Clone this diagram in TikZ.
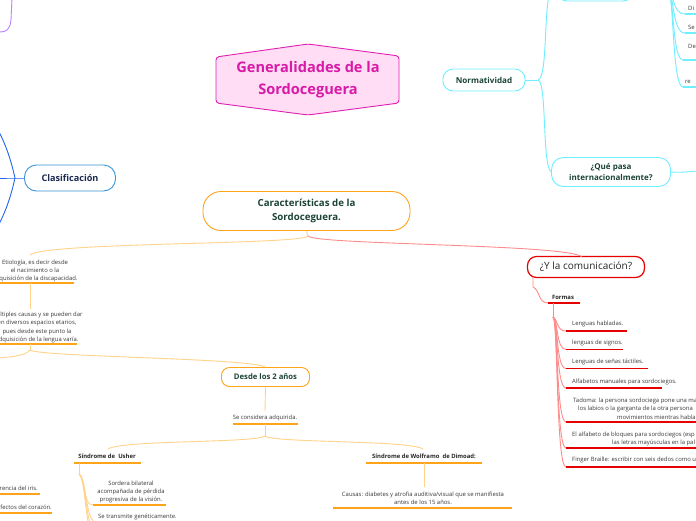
\documentclass[tikz,border=0pt]{standalone}
\usepackage{fontspec}
\setmainfont{Open Sans}
\usetikzlibrary{arrows.meta,backgrounds}
\definecolor{mag}{HTML}{E020B0}
\definecolor{magfill}{HTML}{FFDDF5}
\definecolor{magtext}{HTML}{D81AA8}
\definecolor{purp}{HTML}{A650FF}
\definecolor{purpl}{HTML}{BB80FF}
\definecolor{grn}{HTML}{50E050}
\definecolor{blu}{HTML}{2266EE}
\definecolor{clasb}{HTML}{3A96D8}
\definecolor{cyn}{HTML}{6EEFFF}
\definecolor{org}{HTML}{FFA31A}
\definecolor{orgl}{HTML}{FFD38A}
\definecolor{redd}{HTML}{E60000}
\definecolor{redl}{HTML}{FF8C8C}
\definecolor{dgreen}{HTML}{1B4434}
\definecolor{navy}{HTML}{1B2A4E}
\definecolor{txt}{HTML}{3A3A3A}
\tikzset{
  smalltxt/.style={font=\fontsize{5.9}{8.2}\selectfont, text=txt, align=center, inner sep=0pt},
  boldsmall/.style={font=\bfseries\fontsize{5.9}{8}\selectfont, text=black!85, align=center, inner sep=0pt},
  ulo/.style={line width=1.3pt, org},
  ulr/.style={line width=1.3pt, redd},
  ulc/.style={line width=1.3pt, cyn},
  conno/.style={line width=0.9pt, orgl},
  connr/.style={line width=0.9pt, redl},
  connc/.style={line width=0.9pt, cyn},
  boxnode/.style={rounded corners=10pt, draw, fill=white, line width=0.9pt, align=center, inner sep=0pt},
  arr/.style={-{Stealth[length=5pt,width=4pt]}}
}
\begin{document}
\begin{tikzpicture}[x=1pt,y=-1pt]
\useasboundingbox (0,0) rectangle (696,520);
\clip (0,0) rectangle (696,520);
\fill[white] (0,0) rectangle (696,520);

% ---------- nodes ----------
\node[inner sep=0pt, minimum width=183pt, minimum height=58pt] (gen) at (308,80) {};
\node[boxnode, draw=clasb, minimum width=91pt, minimum height=26pt, rounded corners=12pt,
      font=\bfseries\fontsize{9.1}{10}\selectfont, text=navy] (clas) at (70,178) {Clasificación};
\node[boxnode, draw=cyn, minimum width=82pt, minimum height=22pt,
      font=\bfseries\fontsize{8.1}{10}\selectfont, text=dgreen] (norm) at (484,80) {Normatividad};
\node[boxnode, draw=cyn, minimum width=119pt, minimum height=29pt, rounded corners=12pt,
      font=\bfseries\fontsize{8}{11}\selectfont, text=dgreen] (qpasa) at (611,172) {¿Qué pasa\\internacionalmente?};
\node[boxnode, draw=cyn, minimum width=76pt, minimum height=22pt] (topn) at (595,-10) {};
\node[boxnode, draw=org, minimum width=207pt, minimum height=39pt, rounded corners=18pt,
      font=\bfseries\fontsize{9.7}{14}\selectfont, text=dgreen] (carac) at (306.5,211) {Características de la\\Sordoceguera.};
\node[boxnode, draw=org, minimum width=88pt, minimum height=19pt, rounded corners=8pt,
      font=\bfseries\fontsize{7.7}{9}\selectfont, text=dgreen] (desde) at (265.5,377) {Desde los 2 años};
\node[boxnode, draw=redd, line width=1.2pt, minimum width=117pt, minimum height=21pt, rounded corners=9pt,
      font=\fontsize{10}{12}\selectfont, text=black!85] (ycom) at (586,267) {¿Y la comunicación?};

% small text nodes
\node[smalltxt] (etio) at (35,271) {Etiología, es decir desde\\el nacimiento o la\\adquisición de la discapacidad.};
\node[smalltxt] (mult) at (37,327.5) {Múltiples causas y se pueden dar\\en diversos espacios etarios,\\pues desde este punto la\\adquisición de la lengua varía.};
\node[smalltxt] (secon) at (265,418) {Se considera adquirida.};
\node[boldsmall] (usher) at (107,456) {Síndrome de\ \ Usher};
\node[boldsmall] (wolf) at (424,456) {Síndrome de Wolframo\ \ de Dimoad:};
\node[smalltxt] (causas) at (423,498) {Causas: diabetes y atrofia auditiva/visual que se manifiesta\\antes de los 15 años.};
\node[smalltxt] (sord) at (131,492) {Sordera bilateral\\acompañada de pérdida\\progresiva de la visión.};
\node[smalltxt, anchor=west] (trans) at (98,517) {Se transmite genéticamente.};
\node[smalltxt, anchor=east] (iris) at (38,488) {rencia del iris.};
\node[smalltxt, anchor=east] (coraz) at (52,507) {fectos del corazón.};
\node[boldsmall] (formas) at (563,297) {Formas};
\node[smalltxt, anchor=west] (c1) at (572,324) {Lenguas habladas.};
\node[smalltxt, anchor=west] (c2) at (572,343) {lenguas de signos.};
\node[smalltxt, anchor=west] (c3) at (572,362) {Lenguas de señas táctiles.};
\node[smalltxt, anchor=west] (c4) at (572,381.5) {Alfabetos manuales para sordociegos.};
\node[smalltxt, anchor=west] (c5a) at (573,401) {Tadoma: la persona sordociega pone una ma};
\node[smalltxt, anchor=west] (c5b) at (578,409) {los labios o la garganta de la otra persona};
\node[smalltxt, anchor=west] (c5c) at (617,417.5) {movimientos mientras habla};
\node[smalltxt, anchor=west] (c6a) at (572,435) {El alfabeto de bloques para sordociegos (esp};
\node[smalltxt, anchor=west] (c6b) at (612,443) {las letras mayúsculas en la pal};
\node[smalltxt, anchor=west] (c7) at (572,460) {Finger Braille: escribir con seis dedos como u};
\node[smalltxt, anchor=west] (t1) at (688,8) {Di};
\node[smalltxt, anchor=west] (t2) at (688,27) {Se};
\node[smalltxt, anchor=west] (t3) at (688,46) {De};
\node[smalltxt, anchor=west] (t4) at (685,82) {re};

% coordinates
\coordinate (purpEnd) at (117,-2);
\coordinate (grnEnd) at (305,-2);
\coordinate (cfork) at (308,236);
\coordinate (etioTop) at (30,255);
\coordinate (ycomTop) at (582,257);
\coordinate (mfork) at (30,350);
\coordinate (sfork) at (265,436);
\coordinate (ufork) at (79,474);
\coordinate (ffork) at (553,317);
\coordinate (nfork) at (538,80);
\coordinate (tfork) at (668,-10);
\coordinate (clasTip) at (102,165);

% ---------- connectors (background) ----------
\begin{pgfonlayer}{background}
\draw[purp, line width=0.9pt] (gen.center) -- (purpEnd);
\draw[grn, line width=0.9pt] (gen.center) -- (grnEnd);
\draw[blu, line width=0.9pt, arr] (gen.center) -- (clasTip);
\draw[cyn, line width=0.9pt, arr] (gen.center) -- (norm.west);
\draw[org, line width=0.9pt, arr] (gen.center) -- (carac.north);
\end{pgfonlayer}

% purple fragment top-left
\draw[purpl, line width=0.9pt] (12,-2) -- (11,20) .. controls (10,30) and (6,32) .. (0,32);

% blue fork left
\draw[blu, line width=0.9pt] (clas.west) -- (15,178) -- (-2,178);
\draw[blu, line width=0.9pt] (15,178) .. controls (11,160) and (6,145) .. (-2,130);
\draw[blu, line width=0.9pt] (15,178) .. controls (11,196) and (6,211) .. (-2,226);

% cyan around Normatividad
\draw[connc] (norm.east) -- (nfork);
\draw[connc] (nfork) .. controls (547,78) and (544,20) .. (549,-5);
\draw[connc] (nfork) .. controls (547,82) and (542,165) .. (qpasa.west);
\draw[connc] (qpasa.east) .. controls (685,173) and (690,171) .. (700,171);
\draw[connc] (topn.east) -- (tfork);
\foreach \yy/\xx in {14/685, 33/685, 60/683, 87/683}{
  \draw[connc] (tfork) .. controls (674,-8) and (672,\yy) .. (\xx,\yy);
  \draw[ulc] (\xx,\yy) -- (700,\yy);
}

% orange / red from Caracteristicas
\draw[conno] (carac.south) -- (cfork);
\draw[conno] (cfork) .. controls (300,245) and (45,242) .. (etioTop);
\draw[connr] (cfork) .. controls (316,245) and (570,244) .. (ycomTop);

% Etiologia chain
\draw[ulo] (-2,283) -- (74,283);
\draw[conno] (30,283) -- (30,309);
\draw[ulo] (-2,344) -- (77,344);
\draw[conno] (30,344) -- (mfork);
\draw[conno] (mfork) .. controls (25,356) and (10,357) .. (-2,358);
\draw[conno] (mfork) .. controls (40,357) and (250,358) .. (desde.north);

% Desde chain
\draw[conno] (desde.south) -- (265,411);
\draw[ulo] (233,424) -- (298,424);
\draw[conno] (265,424) -- (sfork);
\draw[conno] (sfork) .. controls (258,443) and (120,440) .. (108,449);
\draw[conno] (sfork) .. controls (272,443) and (410,440) .. (423,449);
\draw[ulo] (74,463) -- (141,463);
\draw[ulo] (366,463) -- (482,463);
\draw[conno] (424,463) -- (424,487);
\draw[ulo] (333,508) -- (512,508);

% Usher children
\draw[conno] (79,463) -- (ufork);
\draw[conno] (ufork) .. controls (86,478) and (82,505) .. (93,505);
\draw[ulo] (93,505) -- (166,505);
\foreach \yy/\xx in {523/97, 540/101, 560/105}{
  \draw[conno] (ufork) .. controls (87,478) and (85,\yy) .. (\xx,\yy);
}
\draw[ulo] (97,523) -- (184,523);
\draw[ulo] (-2,494) -- (40,494);
\draw[ulo] (-2,513) -- (52,513);

% Comunicacion
\draw[connr] (533,277) -- (533,287) .. controls (540,290) and (538,303) .. (548,303);
\draw[ulr] (548,303) -- (580,303);
\draw[connr] (553,303) -- (ffork);
\foreach \yy/\xe in {331/627, 349.5/623, 368.5/648, 388/662, 422/700, 448/700, 467/700}{
  \draw[connr] (ffork) .. controls (558,319) and (556,\yy) .. (566,\yy);
  \draw[ulr] (566,\yy) -- (\xe,\yy);
}

% central hexagon
\draw[mag, fill=magfill, line width=0.9pt, rounded corners=3pt]
  (216,57) -- (308,44) -- (399,56) -- (399,103) -- (308,115) -- (216,103) -- cycle;
\node[align=center, font=\bfseries\fontsize{14.6}{22}\selectfont, text=magtext] at (gen.center) {Generalidades de la\\Sordoceguera};
\end{tikzpicture}
\end{document}
